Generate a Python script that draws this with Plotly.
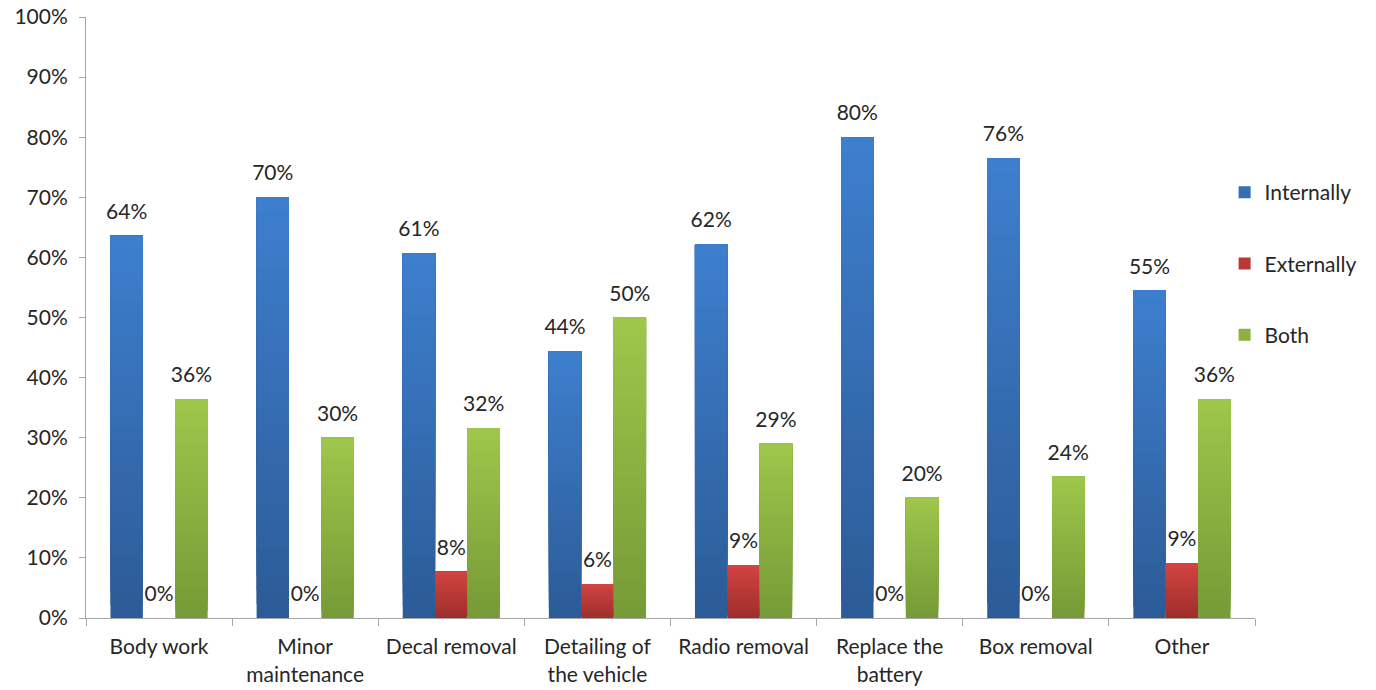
import plotly.graph_objects as go

# Where each maintenance task is carried out (share of respondents)
tasks = ["Body work", "Minor<br>maintenance", "Decal removal", "Detailing of<br>the vehicle",
         "Radio removal", "Replace the<br>battery", "Box removal", "Other"]
internally = [0.636, 0.70, 0.607, 0.444, 0.622, 0.80, 0.765, 0.545]
externally = [0.0, 0.0, 0.077, 0.056, 0.088, 0.0, 0.0, 0.091]
both = [0.364, 0.30, 0.316, 0.50, 0.290, 0.20, 0.235, 0.364]

y_ticks = [i / 10 for i in range(11)]

FONT = "Lato, Carlito, Calibri, sans-serif"
TXT = "#262626"
AXIS = "#A6A6A6"

# (name, values, top colour, bottom colour) - bars fade from light top to dark bottom
series = [
    ("Internally", internally, (61, 127, 206), (44, 91, 150)),
    ("Externally", externally, (210, 68, 65), (158, 46, 44)),
    ("Both", both, (158, 199, 75), (118, 154, 54)),
]
N_BANDS = 30


def blend(top, bottom, t):
    r, g, b = (round(a + (c - a) * t) for a, c in zip(bottom, top))
    return f"rgb({r},{g},{b})"


fig = go.Figure()
for name, vals, top, bottom in series:
    # each band runs from its own start up to the bar's value; later bands
    # are painted over earlier ones, which leaves a seamless fade
    for k in range(N_BANDS):
        frac = (k + 0.5) / N_BANDS
        fig.add_trace(go.Bar(
            name=name, x=tasks,
            y=[v * (N_BANDS - k) / N_BANDS for v in vals],
            base=[v * k / N_BANDS for v in vals],
            marker=dict(color=blend(top, bottom, frac), line=dict(width=0)),
            offsetgroup=name, alignmentgroup="g",
            legendgroup=name, showlegend=(k == N_BANDS // 2),
            hovertemplate=f"{name}: %{{customdata:.0%}}<extra></extra>",
            customdata=vals,
        ))

# value labels, placed over each bar via the same offset groups
for name, vals, top, bottom in series:
    fig.add_trace(go.Scatter(
        x=tasks, y=vals, mode="markers+text",
        text=[f"{v:.0%}" for v in vals],
        textposition="top center",
        textfont=dict(family=FONT, size=21, color=TXT),
        marker=dict(size=17, opacity=0),
        offsetgroup=name, alignmentgroup="g",
        cliponaxis=False, showlegend=False, hoverinfo="skip",
    ))

fig.update_layout(
    width=1376, height=690,
    margin=dict(l=86, r=121, t=17, b=72),
    paper_bgcolor="white", plot_bgcolor="white",
    barmode="group", bargap=0.335, bargroupgap=0,
    scattermode="group", scattergap=0.335,
    font=dict(family=FONT, size=21, color=TXT),
    legend=dict(x=0.974, y=0.742, xanchor="left", yanchor="top",
                tracegroupgap=41, font=dict(size=21, color=TXT),
                itemwidth=30),
    showlegend=True,
)
fig.update_yaxes(range=[0, 1], tickvals=y_ticks, tickformat=".0%", automargin=False,
                 showgrid=False, showline=True, linecolor=AXIS, linewidth=1,
                 ticks="outside", ticklen=6, tickcolor=AXIS, ticklabelstandoff=7,
                 zeroline=False, tickfont=dict(size=21, color=TXT))
fig.update_xaxes(showgrid=False, showline=True, linecolor=AXIS, linewidth=1, automargin=False,
                 ticks="outside", ticklen=7, tickcolor=AXIS, ticklabelstandoff=10,
                 tickson="boundaries", tickfont=dict(size=21, color=TXT))

fig.write_html("out.html")
